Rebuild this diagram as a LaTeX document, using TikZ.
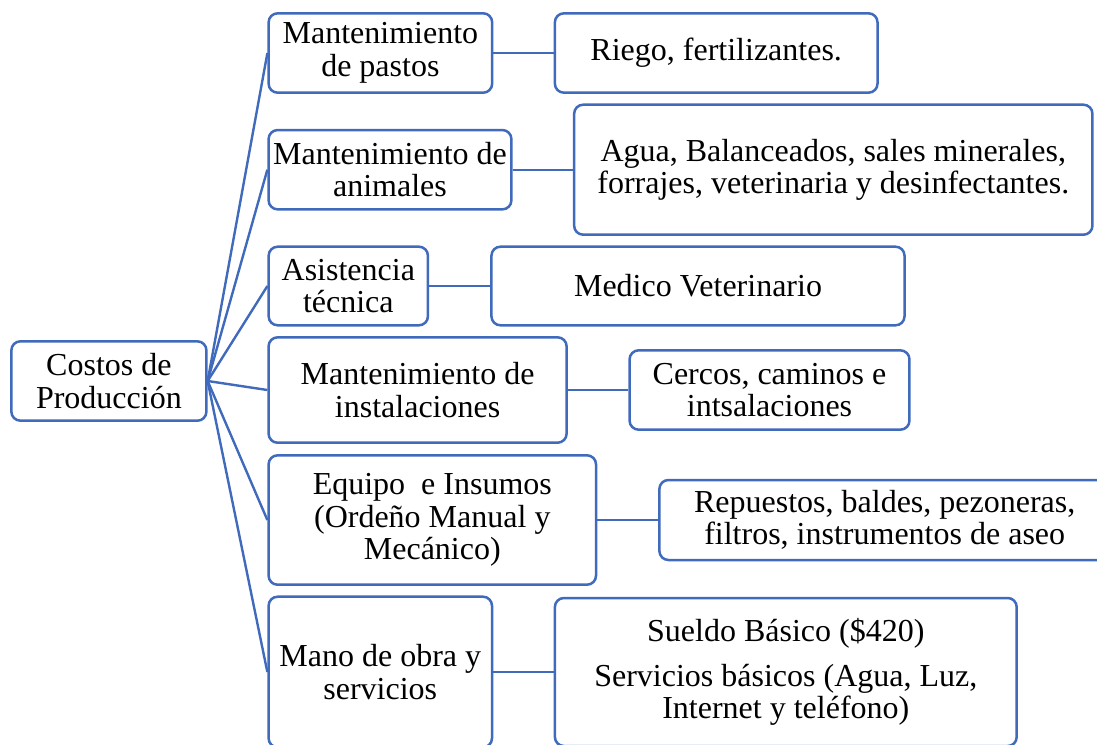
\documentclass[tikz,border=0pt]{standalone}
\usepackage{fontspec}
\setmainfont{Liberation Serif}
\definecolor{boxblue}{RGB}{64,106,188}
\begin{document}
\begin{tikzpicture}[x=1pt,y=-1pt,
  box/.style={draw=boxblue, line width=2.5pt, rounded corners=9pt, fill=white,
    inner sep=0pt, align=center, font=\fontsize{32}{32.7}\selectfont},
  link/.style={draw=boxblue, line width=2.4pt}]
\useasboundingbox (0,0) rectangle (1097,744);
\clip (0,0) rectangle (1097,744);
% root
\node[box, minimum width=195pt, minimum height=79.4pt] (root) at (108.9,381) {Costos de\\Producción};
% level 1
\node[box, minimum width=223.5pt, minimum height=79.4pt] (a1) at (380.4,53) {Mantenimiento\\de pastos};
\node[box, minimum width=242.8pt, minimum height=79.3pt] (a2) at (390,169.7) {Mantenimiento de\\animales};
\node[box, minimum width=159.3pt, minimum height=78.6pt] (a3) at (348.3,286) {Asistencia\\técnica};
\node[box, minimum width=298pt, minimum height=105.4pt] (a4) at (417.6,390) {Mantenimiento de\\instalaciones};
\node[box, minimum width=327.4pt, minimum height=129.4pt] (a5) at (432.3,520) {Equipo~ e Insumos\\(Ordeño Manual y\\Mecánico)};
\node[box, minimum width=223.4pt, minimum height=150.6pt] (a6) at (380.3,672) {Mano de obra y\\servicios};
% level 2
\node[box, minimum width=322.6pt, minimum height=79.4pt] (b1) at (716.2,53) {Riego, fertilizantes.};
\node[box, minimum width=518.3pt, minimum height=130pt] (b2) at (833.3,169.7) {Agua, Balanceados, sales minerales,\\forrajes, veterinaria y desinfectantes.};
\node[box, minimum width=413.1pt, minimum height=78.6pt] (b3) at (698,286) {Medico Veterinario};
\node[box, minimum width=279.9pt, minimum height=79.3pt] (b4) at (769.5,390) {Cercos, caminos e\\intsalaciones};
\node[box, minimum width=450.6pt, minimum height=80pt] (b5) at (884.7,520) {Repuestos, baldes, pezoneras,\\filtros, instrumentos de aseo};
\node[box, minimum width=461.8pt, minimum height=148pt] (b6) at (785.8,672) {Sueldo Básico (\$420)\\[12pt]Servicios básicos (Agua, Luz,\\Internet y teléfono)};
% connectors
\foreach \n in {a1,a2,a3,a4,a5,a6} \draw[link] (root.east) -- (\n.west);
\draw[link] (a1.east) -- (b1.west);
\draw[link] (a2.east) -- (b2.west);
\draw[link] (a3.east) -- (b3.west);
\draw[link] (a4.east) -- (b4.west);
\draw[link] (a5.east) -- (b5.west);
\draw[link] (a6.east) -- (b6.west);
\end{tikzpicture}
\end{document}
